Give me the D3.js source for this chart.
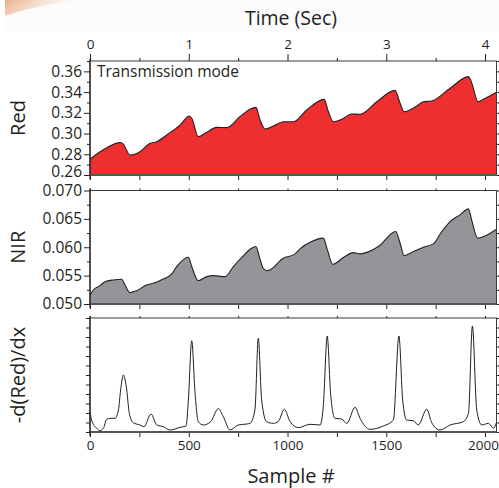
<!DOCTYPE html>
<html>
<head>
<meta charset="utf-8">
<script src="https://cdn.jsdelivr.net/npm/d3@7"></script>
<style>
  body { margin: 0; background: #fff; }
  svg { display: block; font-family: "Open Sans", sans-serif; }
</style>
</head>
<body>
<div id="chart"></div>
<script>
// key points (sample #, value)
const redSample = [0, 51, 85, 152, 165, 203, 253, 304, 338, 388, 456, 503, 515, 548, 582, 641, 692, 759, 810, 840, 861, 886, 928, 979, 1030, 1097, 1185, 1207, 1232, 1274, 1325, 1367, 1452, 1544, 1570, 1590, 1654, 1688, 1730, 1823, 1916, 1927, 1966, 1991, 2058];
const redValue = [0.2752, 0.2825, 0.2864, 0.2912, 0.2905, 0.2793, 0.2825, 0.2906, 0.2921, 0.2986, 0.3082, 0.3169, 0.3147, 0.2970, 0.3002, 0.3060, 0.3057, 0.3163, 0.3235, 0.3253, 0.3131, 0.3044, 0.3073, 0.3114, 0.3114, 0.3227, 0.3330, 0.3210, 0.3114, 0.3137, 0.3189, 0.3186, 0.3307, 0.3417, 0.3292, 0.3210, 0.3266, 0.3307, 0.3314, 0.3437, 0.3549, 0.3517, 0.3307, 0.3330, 0.3398];

const nirSample = [0, 17, 51, 76, 118, 160, 177, 203, 236, 287, 321, 371, 414, 439, 498, 515, 548, 591, 624, 684, 726, 776, 810, 840, 857, 877, 898, 979, 1038, 1063, 1122, 1181, 1202, 1229, 1283, 1333, 1367, 1460, 1548, 1570, 1590, 1637, 1688, 1738, 1781, 1823, 1873, 1916, 1932, 1963, 2000, 2058];
const nirValue = [0.05159, 0.05247, 0.05323, 0.05394, 0.05424, 0.05436, 0.05335, 0.05200, 0.05235, 0.05335, 0.05365, 0.05441, 0.05530, 0.05659, 0.05824, 0.05660, 0.05411, 0.05482, 0.05500, 0.05482, 0.05660, 0.05847, 0.05965, 0.06012, 0.05835, 0.05630, 0.05588, 0.05806, 0.05883, 0.05971, 0.06100, 0.06160, 0.05953, 0.05700, 0.05818, 0.05906, 0.05883, 0.06012, 0.06277, 0.06071, 0.05853, 0.05924, 0.06000, 0.06059, 0.06277, 0.06453, 0.06571, 0.06677, 0.06483, 0.06160, 0.06200, 0.06318];

const derSample = [0, 8, 34, 51, 68, 84, 101, 127, 144, 155, 169, 186, 199, 219, 253, 273, 309, 338, 371, 405, 456, 486, 498, 515, 532, 548, 574, 611, 650, 675, 709, 751, 793, 810, 835, 852, 869, 894, 928, 953, 984, 1013, 1055, 1114, 1165, 1181, 1201, 1218, 1240, 1274, 1300, 1342, 1367, 1418, 1485, 1536, 1564, 1583, 1603, 1637, 1662, 1705, 1730, 1772, 1823, 1890, 1916, 1936, 1958, 1983, 2017, 2043, 2058];
const derValue = [2.1, 1.26, 0.39, 0.14, 0.39, 1.33, 1.44, 1.44, 2.32, 4.42, 6.0, 4.42, 1.96, 0.98, 0.74, 0.56, 1.89, 0.74, 0.56, 0.21, 0.49, 0.63, 3.37, 9.61, 4.07, 1.09, 0.74, 1.09, 2.46, 1.61, 0.21, 0.74, 0.84, 0.91, 2.32, 9.86, 3.37, 1.09, 0.91, 1.09, 2.39, 1.09, 0.46, 0.81, 0.74, 2.67, 10.1, 4.07, 1.44, 1.37, 0.91, 2.6, 1.44, 0.28, 0.63, 1.26, 10.1, 3.37, 1.26, 1.19, 0.74, 2.39, 0.98, 0.21, 0.74, 1.09, 1.96, 11.16, 2.32, 0.74, 0.91, 0.39, 1.0];

const timeTicks = [0, 1, 2, 3, 4];
const timeMinor = [0.5, 1.5, 2.5, 3.5];
const sampleTicks = [0, 500, 1000, 1500, 2000];
const sampleMinor = [250, 750, 1250, 1750];
const redTicks = [0.26, 0.28, 0.30, 0.32, 0.34, 0.36];
const redMinor = [0.27, 0.29, 0.31, 0.33, 0.35, 0.37];
const nirTicks = [0.050, 0.055, 0.060, 0.065, 0.070];
const nirMinor = [0.0525, 0.0575, 0.0625, 0.0675];
const derTicks = d3.range(0, 13);

const W = 499;
const H = 488;
const LEFT = 90;
const RIGHT = 496.5;
const INK = "#231f20";

const svg = d3.select("#chart").append("svg")
  .attr("width", W)
  .attr("height", H);

// faint page decoration at the top left
const defs = svg.append("defs");
const grad = defs.append("linearGradient")
  .attr("id", "swoosh")
  .attr("x1", "0").attr("y1", "0").attr("x2", "1").attr("y2", "0.3");
grad.append("stop").attr("offset", "0").attr("stop-color", "#e8a77c").attr("stop-opacity", 0.9);
grad.append("stop").attr("offset", "1").attr("stop-color", "#f4d2bb").attr("stop-opacity", 0);
svg.append("rect")
  .attr("x", 5).attr("y", 0).attr("width", W - 5).attr("height", 32)
  .attr("fill", "#fbfbfb");
svg.append("path")
  .attr("d", "M5,0 L75,0 C50,4 25,9 5,16 Z")
  .attr("fill", "url(#swoosh)");

const x = d3.scaleLinear().domain([0, 2058]).range([LEFT, RIGHT]);
const xTime = d3.scaleLinear().domain([0, 2058 / 500]).range([LEFT, RIGHT]);

const panels = [
  { name: "red", top: 61, bottom: 175, domain: [0.26, 0.37], ticks: redTicks, minor: redMinor,
    fmt: d3.format(".2f"), fill: "#ee2e2f", xs: redSample, ys: redValue, label: "Red" },
  { name: "nir", top: 190.5, bottom: 304, domain: [0.05, 0.07], ticks: nirTicks, minor: nirMinor,
    fmt: d3.format(".3f"), fill: "#939598", xs: nirSample, ys: nirValue, label: "NIR" },
  { name: "der", top: 318, bottom: 432, domain: [0, 12], ticks: derTicks, minor: [],
    fmt: () => "", fill: null, xs: derSample, ys: derValue, label: "-d(Red)/dx" }
];

function styleAxis(g, fontSize) {
  g.select(".domain").remove();
  g.selectAll(".tick line").attr("stroke", INK).attr("stroke-width", 1);
  g.selectAll(".tick text")
    .attr("fill", INK)
    .style("font-family", "'Open Sans', sans-serif")
    .style("font-size", fontSize + "px");
}

panels.forEach(function(p) {
  const y = d3.scaleLinear().domain(p.domain).range([p.bottom, p.top]);
  const pts = p.xs.map(function(s, i) { return [s, p.ys[i]]; });
  const g = svg.append("g").attr("class", p.name);

  if (p.fill) {
    g.append("path")
      .datum(pts)
      .attr("fill", p.fill)
      .attr("d", d3.area()
        .x(function(d) { return x(d[0]); })
        .y0(p.bottom)
        .y1(function(d) { return y(d[1]); })
        .curve(d3.curveMonotoneX));
  }
  g.append("path")
    .datum(pts)
    .attr("fill", "none")
    .attr("stroke", INK)
    .attr("stroke-width", p.fill ? 1.1 : 1)
    .attr("d", d3.line()
      .x(function(d) { return x(d[0]); })
      .y(function(d) { return y(d[1]); })
      .curve(d3.curveMonotoneX));

  // left axis
  const leftAxis = g.append("g")
    .attr("transform", "translate(" + LEFT + ",0)")
    .call(d3.axisLeft(y).tickValues(p.ticks).tickSize(p.name === "der" ? 4 : 6)
      .tickPadding(2).tickFormat(p.fmt))
    .call(styleAxis, 15.5);
  // the lowest red label sits a little high, clear of the NIR panel
  if (p.name === "red") {
    leftAxis.selectAll(".tick text")
      .attr("y", function(d) { return d === 0.26 ? -3 : 0; });
  }
  if (p.minor.length) {
    g.append("g")
      .attr("transform", "translate(" + LEFT + ",0)")
      .call(d3.axisLeft(y).tickValues(p.minor).tickSize(3).tickFormat(""))
      .call(styleAxis, 15.5);
  }
  // right mirror ticks
  g.append("g")
    .attr("transform", "translate(" + RIGHT + ",0)")
    .call(d3.axisRight(y).tickValues(p.ticks.concat(p.minor)).tickSize(4).tickFormat(""))
    .call(styleAxis, 15.5);

  // x ticks on top and bottom edges
  const bottomAxis = g.append("g")
    .attr("transform", "translate(0," + p.bottom + ")")
    .call(d3.axisBottom(x).tickValues(sampleTicks.concat(sampleMinor)).tickSize(5)
      .tickFormat(p.name === "der" ? function(d) { return sampleTicks.includes(d) ? d : ""; } : ""))
    .call(styleAxis, 13.5);
  bottomAxis.selectAll(".tick text")
    .attr("dx", function(d) { return d === 2000 ? -2 : 0; });
  if (p.name !== "red") {
    g.append("g")
      .attr("transform", "translate(0," + p.top + ")")
      .call(d3.axisTop(x).tickValues(sampleTicks.concat(sampleMinor)).tickSize(2).tickFormat(""))
      .call(styleAxis, 13.5);
  }

  // frame
  g.append("rect")
    .attr("x", LEFT).attr("y", p.top)
    .attr("width", RIGHT - LEFT).attr("height", p.bottom - p.top)
    .attr("fill", "none")
    .attr("stroke", "#3a3a3a")
    .attr("stroke-width", 1);
  g.append("line")
    .attr("x1", LEFT).attr("x2", RIGHT)
    .attr("y1", p.bottom).attr("y2", p.bottom)
    .attr("stroke", "#555").attr("stroke-width", 1.8);
  g.append("line")
    .attr("x1", LEFT).attr("x2", LEFT)
    .attr("y1", p.top - 2).attr("y2", p.bottom + 4)
    .attr("stroke", INK).attr("stroke-width", 1.2);

  // y label
  g.append("text")
    .attr("transform", "translate(25," + ((p.top + p.bottom) / 2) + ") rotate(-90)")
    .attr("text-anchor", "middle")
    .attr("fill", INK)
    .style("font-size", "20px")
    .text(p.label);
});

// time axis on top of the red panel
svg.append("g")
  .attr("transform", "translate(0,61)")
  .call(d3.axisTop(xTime).tickValues(timeTicks).tickSize(7).tickPadding(5).tickFormat(d3.format("d")))
  .call(styleAxis, 13.5);
svg.append("g")
  .attr("transform", "translate(0,61)")
  .call(d3.axisTop(xTime).tickValues(timeMinor).tickSize(3).tickFormat(""))
  .call(styleAxis, 13.5);

svg.append("text")
  .attr("x", 291).attr("y", 25)
  .attr("text-anchor", "middle")
  .attr("fill", INK)
  .style("font-size", "19.5px")
  .text("Time (Sec)");

svg.append("text")
  .attr("x", 97).attr("y", 77)
  .attr("fill", INK)
  .style("font-size", "15.5px")
  .text("Transmission mode");

svg.append("text")
  .attr("x", 291).attr("y", 483)
  .attr("text-anchor", "middle")
  .attr("fill", INK)
  .style("font-size", "20px")
  .text("Sample #");
</script>
</body>
</html>
